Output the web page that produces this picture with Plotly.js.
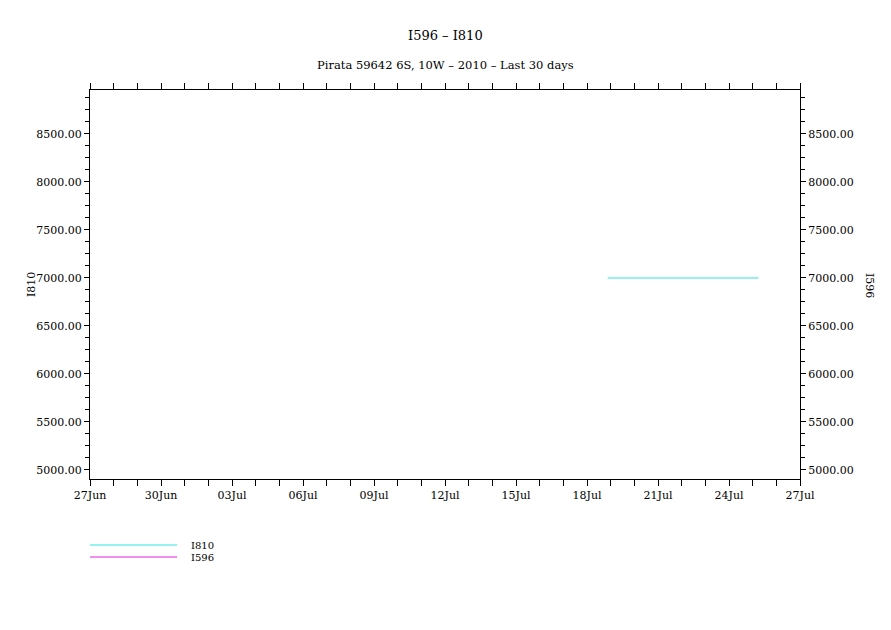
<!DOCTYPE html>
<html>
<head>
<meta charset="utf-8">
<script src="https://cdn.plot.ly/plotly-3.0.1.min.js"></script>
<style>html,body{margin:0;padding:0;background:#fff;}#chart{width:891px;height:630px;}</style>
</head>
<body>
<div id="chart"></div>
<script>
// Data
var seriesNames = ['I810', 'I596'];
var i810Times = ['2010-07-18 21:00', '2010-07-19 12:00', '2010-07-20 12:00', '2010-07-21 12:00', '2010-07-22 12:00', '2010-07-23 12:00', '2010-07-24 12:00', '2010-07-25 06:00'];
var i810Values = [7000, 7000, 7000, 7000, 7000, 7000, 7000, 7000];
var i596Times = [];
var i596Values = [];
var xRange = ['2010-06-27', '2010-07-27'];
var yRange = [4906, 8958];
var titleText = 'I596 \u2013 I810';
var subtitleText = 'Pirata 59642 6S, 10W \u2013 2010 \u2013 Last 30 days';
var colors = ['#2ee3e3', '#e01ee0'];

var FONT = 'DejaVu Serif, Liberation Serif, serif';

var traces = [
  {x: i810Times, y: i810Values, type: 'scatter', mode: 'lines', name: seriesNames[0],
   line: {color: colors[0], width: 1}, yaxis: 'y', showlegend: false},
  {x: i596Times, y: i596Values, type: 'scatter', mode: 'lines', name: seriesNames[1],
   line: {color: colors[1], width: 1}, yaxis: 'y2', showlegend: false}
];

var yCommon = {
  range: yRange, tick0: 5000, dtick: 500, tickformat: '.2f',
  ticks: 'outside', ticklen: 5, tickwidth: 1, tickcolor: '#000',
  showline: true, linecolor: '#000', linewidth: 1, showgrid: false, zeroline: false,
  tickfont: {family: FONT, size: 11, color: '#000'},
  minor: {dtick: 125, tick0: 5000, ticks: 'outside', ticklen: 4, tickcolor: '#000', showgrid: false}
};

var layout = {
  width: 891, height: 630,
  margin: {l: 90, r: 91, t: 90, b: 151},
  paper_bgcolor: '#fff', plot_bgcolor: '#fff',
  showlegend: false,
  xaxis: {
    type: 'date', range: xRange, tick0: '2010-06-27', dtick: 3 * 86400000,
    tickformat: '%d%b', ticks: 'outside', ticklen: 6, tickwidth: 1, tickcolor: '#000',
    showline: true, linecolor: '#000', linewidth: 1, mirror: 'allticks', showgrid: false, zeroline: false,
    tickfont: {family: FONT, size: 11, color: '#000'},
    minor: {dtick: 86400000, ticks: 'outside', ticklen: 4, tickcolor: '#000', showgrid: false}
  },
  yaxis: Object.assign({}, yCommon, {side: 'left'}),
  yaxis2: Object.assign({}, yCommon, {side: 'right', overlaying: 'y'}),
  annotations: [
    {text: titleText, xref: 'paper', yref: 'paper', x: 0.5, y: (479 - 36) / 389, xanchor: 'center', yanchor: 'middle',
     showarrow: false, font: {family: FONT, size: 13, color: '#000'}},
    {text: subtitleText, xref: 'paper', yref: 'paper', x: 0.5, y: (479 - 65) / 389, xanchor: 'center', yanchor: 'middle',
     showarrow: false, font: {family: FONT, size: 11.5, color: '#000'}},
    {text: seriesNames[0], xref: 'paper', yref: 'paper', x: (31 - 90) / 710, y: (479 - 285) / 389, xanchor: 'center', yanchor: 'middle',
     textangle: -90, showarrow: false, font: {family: FONT, size: 11, color: '#000'}},
    {text: seriesNames[1], xref: 'paper', yref: 'paper', x: (870 - 90) / 710, y: (479 - 285) / 389, xanchor: 'center', yanchor: 'middle',
     textangle: 90, showarrow: false, font: {family: FONT, size: 11, color: '#000'}},
    {text: seriesNames[0], xref: 'paper', yref: 'paper', x: (189 - 90) / 710, y: (479 - 545) / 389, xanchor: 'left', yanchor: 'middle',
     showarrow: false, font: {family: FONT, size: 10, color: '#000'}},
    {text: seriesNames[1], xref: 'paper', yref: 'paper', x: (189 - 90) / 710, y: (479 - 557) / 389, xanchor: 'left', yanchor: 'middle',
     showarrow: false, font: {family: FONT, size: 10, color: '#000'}}
  ],
  shapes: [
    {type: 'line', xref: 'paper', yref: 'paper', x0: 0, x1: (177 - 90) / 710, y0: (479 - 545) / 389, y1: (479 - 545) / 389,
     line: {color: colors[0], width: 1}},
    {type: 'line', xref: 'paper', yref: 'paper', x0: 0, x1: (177 - 90) / 710, y0: (479 - 557) / 389, y1: (479 - 557) / 389,
     line: {color: colors[1], width: 1}}
  ]
};

Plotly.newPlot('chart', traces, layout, {displayModeBar: false, staticPlot: true});
</script>
</body>
</html>
